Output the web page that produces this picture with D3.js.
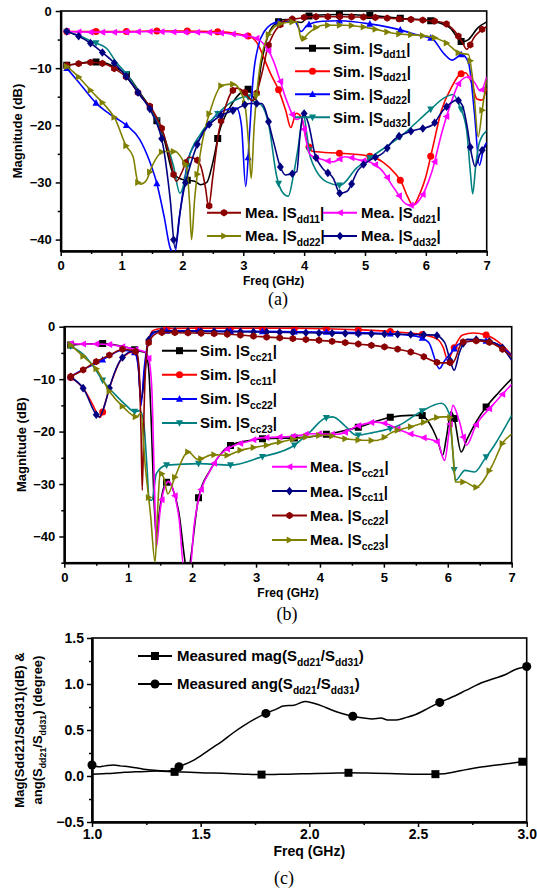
<!DOCTYPE html>
<html><head><meta charset="utf-8">
<script src="https://cdn.jsdelivr.net/npm/d3@7"></script>
<style>body{margin:0;background:#fff}svg{display:block}</style>
</head><body>
<svg id="chart" width="537" height="888"></svg>
<script>
// ================= DATA =================
// Panel (a): differential-mode S-parameters, [freq GHz, dB]
const aXTicks = [0,1,2,3,4,5,6,7];
const aYTicks = [0,-10,-20,-30,-40];
const a_simSdd11 = [[0.1,-9.5],[0.3,-9.2],[0.5,-8.9],[0.7,-9.0],[0.9,-9.9],[1.1,-11.3],[1.3,-14.3],[1.5,-17.5],[1.7,-22.5],[1.85,-28.5],[2.0,-29.5],[2.2,-29.8],[2.3,-30.4],[2.4,-30.0],[2.5,-26.5],[2.6,-21.4],[2.8,-16.5],[3.0,-14.0],[3.08,-13.7],[3.2,-15.5],[3.3,-9.0],[3.4,-4.5],[3.5,-2.5],[3.7,-1.5],[3.95,-2.0],[4.1,-0.8],[4.6,-0.6],[5.1,-0.8],[5.6,-1.3],[6.0,-1.6],[6.2,-2.0],[6.4,-3.0],[6.6,-5.4],[6.7,-5.0],[6.85,-3.0],[7.0,-1.9]];
const a_simSdd21 = [[0.1,-3.6],[0.5,-3.6],[1.0,-3.6],[1.5,-3.5],[2.0,-3.5],[2.5,-3.6],[2.8,-3.8],[3.0,-4.2],[3.15,-4.7],[3.25,-6],[3.35,-8.5],[3.45,-11],[3.58,-13.8],[3.7,-17.5],[3.78,-20.4],[3.87,-17.9],[3.95,-18.5],[4.05,-23],[4.15,-24.6],[4.6,-24.9],[5.08,-25.4],[5.3,-26.5],[5.5,-28.5],[5.6,-30],[5.7,-32.5],[5.79,-34],[5.9,-32],[6.0,-29],[6.1,-24.5],[6.26,-17.3],[6.43,-13.2],[6.55,-11.2],[6.65,-10.8],[6.75,-12.5],[6.84,-15.4],[6.92,-15.6],[7.0,-13.5]];
const a_simSdd22 = [[0.1,-10],[0.3,-12.5],[0.59,-16.2],[0.8,-18],[1.08,-20],[1.3,-22.5],[1.45,-26],[1.58,-30.2],[1.7,-36],[1.8,-41.5],[1.87,-42.5],[1.96,-35.4],[2.03,-30],[2.1,-25.7],[2.29,-22.3],[2.56,-18.2],[2.75,-17.2],[2.89,-17],[2.97,-20],[3.04,-30.7],[3.1,-22],[3.16,-12],[3.25,-6],[3.35,-3.5],[3.45,-2.4],[3.58,-1.9],[3.85,-1.9],[3.95,-3.6],[4.05,-2.5],[4.3,-1.8],[4.59,-1.7],[5.1,-2.3],[5.58,-3.3],[5.9,-4.3],[6.1,-4.8],[6.3,-7.5],[6.43,-8.6],[6.59,-7.6],[6.7,-9],[6.8,-18],[6.88,-27],[6.95,-24],[7.0,-23]];
const a_simSdd32 = [[0.1,-3.6],[0.3,-4.3],[0.5,-5.3],[0.76,-6.6],[0.9,-8.8],[1.08,-11],[1.3,-14.5],[1.5,-17.6],[1.7,-22],[1.85,-27],[1.96,-31.9],[2.03,-30],[2.1,-26],[2.3,-21.5],[2.56,-18.2],[2.8,-16],[3.05,-15],[3.2,-16],[3.3,-16.5],[3.42,-20],[3.55,-29],[3.65,-31.8],[3.74,-32.4],[3.82,-29],[3.9,-24],[3.99,-18.2],[4.05,-22],[4.1,-25.5],[4.37,-29.9],[4.59,-30.5],[4.86,-27.5],[5.11,-25.5],[5.58,-22],[6.07,-17.3],[6.3,-15.2],[6.45,-14.6],[6.55,-16.5],[6.67,-20.8],[6.73,-28],[6.77,-32],[6.82,-27],[6.88,-23],[7.0,-21]];
const a_meaSdd11 = [[0.1,-9.5],[0.3,-9.2],[0.5,-9.0],[0.7,-9.2],[0.9,-10.2],[1.1,-11.8],[1.3,-14.7],[1.5,-17.2],[1.7,-21.8],[1.8,-26],[1.9,-29.8],[2.0,-28],[2.1,-25.6],[2.2,-25.8],[2.3,-27.1],[2.38,-31],[2.43,-34.3],[2.5,-29],[2.6,-21],[2.7,-17],[2.8,-14.3],[2.9,-13.5],[3.0,-14.0],[3.15,-15.7],[3.3,-11.2],[3.4,-6.5],[3.5,-3.9],[3.6,-2.5],[3.7,-1.6],[3.9,-1.3],[4.1,-1.0],[4.6,-1.0],[5.1,-1.1],[5.6,-1.4],[6.07,-1.7],[6.28,-2.0],[6.48,-3.6],[6.6,-5.5],[6.67,-6.7],[6.8,-4.5],[7.0,-2.7]];
const a_meaSdd21 = [[0.1,-3.6],[0.5,-3.7],[1.0,-3.7],[1.5,-3.6],[2.0,-3.7],[2.5,-3.8],[2.8,-4.0],[3.0,-4.3],[3.2,-4.7],[3.33,-5.7],[3.49,-8.6],[3.6,-12],[3.71,-15.6],[3.88,-19],[3.96,-18.6],[4.02,-22],[4.1,-25.2],[4.3,-26],[4.48,-26.4],[4.67,-25.5],[4.92,-26.1],[5.1,-26.5],[5.27,-27.8],[5.49,-31.2],[5.68,-33.8],[5.8,-34],[5.87,-33.4],[6.0,-31],[6.1,-28.1],[6.26,-21.4],[6.43,-15.6],[6.55,-12.5],[6.7,-11.5],[6.8,-12.5],[6.9,-14],[7.0,-11.5]];
const a_meaSdd22 = [[0.1,-9.7],[0.29,-11.5],[0.51,-14.1],[0.7,-16.2],[0.89,-18.8],[1.08,-23.7],[1.19,-25.5],[1.27,-30],[1.32,-30.3],[1.41,-29.6],[1.5,-27.2],[1.69,-24.6],[1.88,-24.6],[2.0,-26],[2.07,-27.5],[2.12,-34],[2.15,-40],[2.2,-33],[2.29,-25.2],[2.48,-16.7],[2.65,-13],[2.84,-12.8],[2.95,-14],[3.03,-16.5],[3.1,-25],[3.13,-29.3],[3.18,-20],[3.27,-10],[3.38,-5],[3.55,-2.5],[3.71,-2.0],[3.88,-1.9],[3.96,-5.1],[4.07,-3.9],[4.31,-2.5],[4.67,-2.5],[5.08,-3.0],[5.47,-3.9],[6.07,-4.5],[6.31,-5.4],[6.56,-7.4],[6.7,-7.6],[6.78,-13],[6.86,-22],[6.93,-17],[7.0,-12]];
const a_meaSdd32 = [[0.1,-3.6],[0.29,-4.4],[0.5,-5.7],[0.7,-7.4],[0.89,-9.2],[1.08,-11.5],[1.3,-14.7],[1.5,-17.9],[1.69,-24],[1.8,-33],[1.88,-41.5],[1.95,-36],[2.03,-31],[2.1,-28.1],[2.29,-22.2],[2.56,-18.8],[2.86,-17.3],[3.11,-16.2],[3.3,-16.2],[3.49,-22.6],[3.6,-27],[3.69,-28.7],[3.88,-28.1],[3.93,-22],[3.99,-17.9],[4.07,-19.7],[4.18,-25.2],[4.3,-27.5],[4.48,-29.3],[4.59,-31.9],[4.7,-31.6],[4.89,-27.8],[5.08,-26.1],[5.3,-24.8],[5.47,-22.6],[5.74,-21.1],[6.1,-20],[6.29,-17.3],[6.51,-15.6],[6.6,-16.5],[6.67,-19.7],[6.75,-25],[6.81,-27.2],[6.89,-25],[7.0,-23.5]];
const aSimLabels = [["Sim. |S","dd11","|"],["Sim. |S","dd21","|"],["Sim. |S","dd22","|"],["Sim. |S","dd32","|"]];
const aMeaLabels = [["Mea. |S","dd11","|"],["Mea. |S","dd21","|"],["Mea. |S","dd22","|"],["Mea. |S","dd32","|"]];

// Panel (b): common-mode S-parameters, [freq GHz, dB]
const bXTicks = [0,1,2,3,4,5,6,7];
const bYTicks = [0,-10,-20,-30,-40];
const b_simScc21 = [[0.1,-3.5],[0.3,-3.3],[0.61,-3.2],[0.8,-3.5],[1.0,-4.0],[1.15,-4.6],[1.27,-4.9],[1.32,-8],[1.36,-18],[1.4,-32],[1.44,-40],[1.48,-36],[1.53,-32],[1.58,-30],[1.63,-29.5],[1.7,-31],[1.8,-36],[1.88,-44],[1.93,-48],[1.98,-44],[2.1,-32.6],[2.28,-27.4],[2.43,-24.5],[2.59,-22.7],[2.9,-21.7],[3.2,-21.3],[3.6,-21.2],[3.84,-21],[4.2,-20.3],[4.59,-19.2],[5.09,-17.3],[5.4,-16.9],[5.58,-16.9],[5.77,-19.7],[5.85,-22],[5.92,-24.5],[5.98,-21],[6.05,-16.2],[6.1,-17.5],[6.21,-23.9],[6.3,-21.5],[6.45,-18],[6.6,-15.3],[6.8,-12.5],[7.0,-9.9]];
const b_simScc11 = [[0.1,-9.7],[0.3,-11.8],[0.45,-15],[0.56,-17.3],[0.64,-14.5],[0.72,-11.2],[0.9,-6.1],[1.1,-4.7],[1.15,-6.5],[1.2,-14],[1.26,-8],[1.31,-3.1],[1.39,-0.7],[1.5,-0.4],[2.0,-0.3],[3.0,-0.3],[3.58,-0.3],[4.62,-0.6],[5.2,-1],[5.61,-1.5],[5.85,-2.5],[5.93,-4],[6.0,-6.4],[6.08,-4.5],[6.23,-1.6],[6.4,-1.2],[6.6,-1.6],[6.8,-3],[7.0,-5.4]];
const b_simScc22 = [[0.1,-9.5],[0.3,-8.1],[0.5,-7],[0.7,-5.6],[0.9,-4.5],[1.1,-4.9],[1.16,-8],[1.2,-15],[1.25,-8],[1.31,-3],[1.4,-1.2],[1.5,-0.8],[2.0,-0.8],[3.0,-0.9],[4.0,-1.0],[5.0,-1.3],[5.5,-1.8],[5.7,-3],[5.87,-8.0],[5.95,-6.5],[6.05,-5],[6.15,-3.5],[6.26,-2.9],[6.5,-2.6],[6.8,-3.5],[7.0,-5.5]];
const b_simScc23 = [[0.1,-3.7],[0.3,-5.3],[0.45,-7.5],[0.58,-9.9],[0.8,-13],[0.95,-14.8],[1.1,-16.2],[1.18,-16.0],[1.24,-18],[1.29,-26],[1.33,-33],[1.37,-33.1],[1.44,-28],[1.6,-26.4],[2.12,-26.1],[2.59,-26.4],[3.07,-24.9],[3.6,-22.6],[3.85,-20],[4.07,-17.5],[4.2,-17.2],[4.4,-19],[4.57,-20.7],[4.83,-20.2],[5.24,-18.8],[5.58,-16.2],[5.9,-14.6],[6.02,-16.5],[6.08,-24],[6.12,-29.3],[6.27,-27.4],[6.42,-27.7],[6.58,-25.2],[6.73,-22.6],[7.0,-16.9]];
const b_meaScc21 = [[0.1,-3.2],[0.3,-3.3],[0.51,-3.3],[0.7,-3.4],[0.9,-3.8],[1.1,-4.3],[1.26,-4.8],[1.32,-6],[1.37,-12],[1.41,-30],[1.44,-42],[1.5,-35],[1.56,-31],[1.63,-29.5],[1.7,-31],[1.8,-37],[1.87,-46],[1.97,-46],[2.03,-38],[2.1,-33],[2.28,-27.5],[2.43,-24.5],[2.6,-23],[2.9,-21.8],[3.07,-21.2],[3.58,-20.9],[3.89,-20.4],[4.28,-20.5],[4.62,-18.8],[4.88,-18.2],[5.04,-18.5],[5.25,-19.7],[5.48,-20.7],[5.66,-21.3],[5.84,-22],[5.95,-25.5],[6.02,-20],[6.08,-15],[6.18,-18],[6.29,-22.6],[6.44,-18.8],[6.7,-15],[7.0,-11]];
const b_meaScc11 = [[0.1,-9.6],[0.3,-11.8],[0.51,-16.9],[0.55,-17.2],[0.63,-15],[0.71,-11.5],[0.9,-6],[1.1,-4.6],[1.15,-6],[1.2,-14],[1.26,-9],[1.31,-3],[1.39,-1],[1.5,-0.9],[2.0,-0.9],[3.0,-1.0],[4.0,-1.2],[5.0,-1.4],[5.5,-1.5],[5.8,-1.6],[5.95,-3],[6.05,-7],[6.1,-8.3],[6.18,-5],[6.3,-2.4],[6.5,-2.5],[6.8,-3.5],[7.0,-6.4]];
const b_meaScc22 = [[0.1,-9.5],[0.3,-8.2],[0.45,-7],[0.71,-5.4],[0.92,-4.3],[1.13,-4.8],[1.17,-8],[1.2,-20],[1.22,-31.2],[1.25,-15],[1.3,-3.8],[1.4,-1.6],[1.5,-1.1],[2.0,-1.2],[2.5,-1.4],[3.07,-1.9],[3.6,-2.3],[4.1,-2.7],[4.6,-3.3],[5.14,-4.1],[5.5,-5.1],[5.9,-6.9],[6.08,-6.8],[6.23,-2.9],[6.5,-2.7],[6.7,-3.2],[7.0,-5.7]];
const b_meaScc23 = [[0.1,-3.5],[0.3,-5.7],[0.51,-8.2],[0.71,-12.4],[0.92,-15.3],[1.13,-17.2],[1.2,-16.5],[1.26,-25.6],[1.35,-36],[1.42,-44.9],[1.46,-35],[1.5,-27.8],[1.56,-29],[1.62,-31.9],[1.73,-28.7],[1.94,-23.9],[2.09,-25.3],[2.33,-24.4],[2.54,-24.5],[2.75,-23.6],[3.16,-22.6],[3.6,-21.4],[4.1,-20.7],[4.41,-21.4],[4.88,-21.7],[5.14,-20.1],[5.5,-18.8],[5.92,-17.2],[6.03,-17.2],[6.08,-24],[6.12,-29.6],[6.26,-29.6],[6.44,-30.6],[6.68,-26.8],[6.87,-22],[7.0,-20.5]];
const bSimLabels = [["Sim. |S","cc21","|"],["Sim. |S","cc11","|"],["Sim. |S","cc22","|"],["Sim. |S","cc23","|"]];
const bMeaLabels = [["Mea. |S","cc21","|"],["Mea. |S","cc11","|"],["Mea. |S","cc22","|"],["Mea. |S","cc23","|"]];

// Panel (c): measured magnitude / angle imbalance
const cXTicks = [1.0,1.5,2.0,2.5,3.0];
const cYTicks = [-0.5,0.0,0.5,1.0,1.5];
const c_magF = [1.0,1.05,1.1,1.15,1.2,1.25,1.3,1.38,1.45,1.5,1.6,1.7,1.78,1.9,2.0,2.1,2.18,2.3,2.4,2.5,2.58,2.62,2.7,2.8,2.9,2.98,3.0];
const c_magV = [0.02,0.025,0.03,0.04,0.045,0.05,0.055,0.045,0.04,0.035,0.03,0.02,0.015,0.02,0.025,0.03,0.035,0.03,0.025,0.02,0.02,0.025,0.06,0.1,0.13,0.155,0.16];
const c_angF = [1.0,1.03,1.06,1.1,1.13,1.17,1.2,1.25,1.3,1.35,1.38,1.4,1.45,1.5,1.55,1.6,1.65,1.7,1.75,1.8,1.85,1.88,1.93,1.98,2.02,2.06,2.1,2.15,2.2,2.25,2.29,2.33,2.36,2.4,2.45,2.48,2.55,2.6,2.65,2.72,2.78,2.85,2.9,2.94,3.0];
const c_angV = [0.12,0.1,0.11,0.12,0.11,0.1,0.09,0.07,0.06,0.055,0.07,0.1,0.15,0.22,0.3,0.38,0.47,0.55,0.62,0.68,0.73,0.76,0.77,0.81,0.79,0.76,0.72,0.68,0.65,0.63,0.62,0.63,0.61,0.61,0.64,0.66,0.74,0.8,0.85,0.93,1.0,1.06,1.1,1.15,1.19];
const c_magMarkF = [1.38,1.78,2.18,2.58,2.98];
const c_angMarkF = [1.0,1.4,1.8,2.2,2.6,3.0];
const cLabels = [["Measured mag(S","dd21","/S","dd31",")"],["Measured ang(S","dd21","/S","dd31",")"]];

// ================= DRAWING =================
const svg = d3.select('#chart');
const FONT = "'Liberation Sans', Arial, sans-serif";
const SERIF = "'Liberation Serif', 'Times New Roman', serif";

function markerPath(shape, s){
  s = s || 7;
  const r = s/2;
  switch(shape){
    case 'square': return `M${-r},${-r}H${r}V${r}H${-r}Z`;
    case 'circle': return d3.symbol(d3.symbolCircle, Math.PI*r*r)();
    case 'diamond': return `M0,${-r-0.8}L${r},0L0,${r+0.8}L${-r},0Z`;
    case 'hex': { let p=''; for(let i=0;i<6;i++){const a=Math.PI/3*i+Math.PI/6; p+=(i?'L':'M')+(r*1.05*Math.cos(a)).toFixed(2)+','+(r*1.05*Math.sin(a)).toFixed(2);} return p+'Z'; }
    case 'triUp': return `M0,${-r*1.1}L${r},${r*0.8}L${-r},${r*0.8}Z`;
    case 'triDown': return `M0,${r*1.1}L${r},${-r*0.8}L${-r},${-r*0.8}Z`;
    case 'triLeft': return `M${-r*1.1},0L${r*0.8},${-r}L${r*0.8},${r}Z`;
    case 'triRight': return `M${r*1.1},0L${-r*0.8},${-r}L${-r*0.8},${r}Z`;
  }
}

function richText(g, x, y, parts, size){
  const t = g.append('text').attr('x',x).attr('y',y)
    .attr('font-family',FONT).attr('font-weight','bold').attr('font-size',size).attr('fill','#000');
  let sub=false;
  parts.forEach((p,i)=>{
    const isSub = (i%2===1);
    const ts = t.append('tspan').text(p).attr('font-size', isSub? size*0.68 : size);
    if(isSub && !sub) ts.attr('dy', size*0.3);
    if(!isSub && sub) ts.attr('dy', -size*0.3);
    sub = isSub;
  });
  return t;
}

function makePanel(cfg){
  const g = svg.append('g');
  const x = d3.scaleLinear().domain(cfg.xd).range([cfg.x0,cfg.x1]);
  const y = d3.scaleLinear().domain(cfg.yd).range([cfg.y1,cfg.y0]);
  const id = 'clip'+cfg.name;
  svg.append('clipPath').attr('id',id).append('rect')
    .attr('x',cfg.x0).attr('y',cfg.y0).attr('width',cfg.x1-cfg.x0).attr('height',cfg.y1-cfg.y0);
  g.append('rect').attr('x',cfg.x0).attr('y',cfg.y0).attr('width',cfg.x1-cfg.x0).attr('height',cfg.y1-cfg.y0)
    .attr('fill','none').attr('stroke','#000').attr('stroke-width',1.6);
  g.append('g').attr('transform',`translate(0,${cfg.y1})`)
    .call(d3.axisBottom(x).tickValues(cfg.xTicks).tickSize(5).tickSizeOuter(0).tickPadding(cfg.pad||4).tickFormat(cfg.xFmt));
  g.append('g').attr('transform',`translate(0,${cfg.y1})`)
    .call(d3.axisBottom(x).tickValues(cfg.xMinor).tickSize(3).tickSizeOuter(0).tickFormat(''));
  g.append('g').attr('transform',`translate(${cfg.x0},0)`)
    .call(d3.axisLeft(y).tickValues(cfg.yTicks).tickSize(5).tickSizeOuter(0).tickPadding(cfg.ypad||4).tickFormat(cfg.yFmt));
  g.append('g').attr('transform',`translate(${cfg.x0},0)`)
    .call(d3.axisLeft(y).tickValues(cfg.yMinor).tickSize(3).tickSizeOuter(0).tickFormat(''));
  g.selectAll('.domain').attr('stroke-width',2);
  g.selectAll('.tick line').attr('stroke-width',1.5);
  g.selectAll('.tick text').attr('font-family',FONT).attr('font-weight','bold').attr('font-size',cfg.tickFont||13).attr('fill','#000');
  g.append('text').attr('x',(cfg.x0+cfg.x1)/2).attr('y',cfg.y1+cfg.xTitleOff)
    .attr('text-anchor','middle').attr('font-family',FONT).attr('font-weight','bold').attr('font-size',cfg.titleFont||12).text('Freq (GHz)');
  const plot = g.append('g').attr('clip-path',`url(#${id})`);
  return {g, x, y, plot};
}

const lineGen = (x,y)=> d3.line().x(d=>x(d[0])).y(d=>y(d[1])).curve(d3.curveMonotoneX);

function markerXs(start, step, end){ const r=[]; for(let f=start; f<=end+1e-9; f+=step) r.push(f); return r; }

function drawSeries(P, data, st, markFs){
  const path = P.plot.append('path').datum(data).attr('d', lineGen(P.x,P.y))
    .attr('fill','none').attr('stroke',st.color).attr('stroke-width',st.w||1.6).attr('stroke-linejoin','round');
  const node = path.node(); const L = node.getTotalLength();
  const pts = markFs.map(f=>{
    const tx = P.x(f); let lo=0, hi=L;
    for(let i=0;i<40;i++){ const m=(lo+hi)/2; if(node.getPointAtLength(m).x<tx) lo=m; else hi=m; }
    return node.getPointAtLength(hi);
  });
  P.plot.selectAll(null).data(pts).join('path')
    .attr('transform',p=>`translate(${p.x},${p.y})`).attr('d',markerPath(st.shape, st.ms||7)).attr('fill',st.color);
}

function legendItem(g, x1, x2, y, st, parts, size, tx){
  g.append('line').attr('x1',x1).attr('x2',x2).attr('y1',y).attr('y2',y).attr('stroke',st.color).attr('stroke-width',2);
  g.append('path').attr('transform',`translate(${(x1+x2)/2},${y})`).attr('d',markerPath(st.shape, st.ms||7)).attr('fill',st.color);
  richText(g, tx, y+size*0.36, parts, size);
}

const ST = {
  black:{color:'#000000',shape:'square'},
  red:{color:'#ff0000',shape:'circle'},
  blue:{color:'#0000ff',shape:'triUp'},
  teal:{color:'#008080',shape:'triDown'},
  dred:{color:'#8b0000',shape:'hex'},
  mag:{color:'#ff00ff',shape:'triLeft'},
  olive:{color:'#808000',shape:'triRight'},
  navy:{color:'#000080',shape:'diamond'}
};

// ---------- Panel (a) ----------
const PA = makePanel({name:'a', x0:60.7, x1:486.7, y0:11, y1:251, xd:[0,7], yd:[-42,0],
  xTicks:aXTicks, xMinor:[0.5,1.5,2.5,3.5,4.5,5.5,6.5], yTicks:aYTicks, yMinor:[-5,-15,-25,-35],
  xFmt:d3.format('d'), yFmt:d3.format('d'), xTitleOff:34, pad:5});
const simA = [[a_simSdd11,ST.black],[a_simSdd21,ST.red],[a_simSdd22,ST.blue],[a_simSdd32,ST.teal]];
const meaA = [[a_meaSdd11,ST.dred],[a_meaSdd21,ST.mag],[a_meaSdd22,ST.olive],[a_meaSdd32,ST.navy]];
simA.forEach(([d,s])=>drawSeries(PA,d,s,markerXs(0.08,0.5,7)));
meaA.forEach(([d,s])=>drawSeries(PA,d,s,markerXs(0.1,0.195,7)));
simA.forEach(([d,s],i)=>legendItem(PA.g,295,330,48.3+i*23,s,aSimLabels[i],15,333));
meaA.forEach(([d,s],i)=>{
  const col=i%2, row=Math.floor(i/2);
  const lx = col? 323:207;
  legendItem(PA.g,lx,lx+34,212.7+row*23.3,s,aMeaLabels[i],15,lx+38);
});
PA.g.append('text').attr('transform','translate(22,131) rotate(-90)').attr('text-anchor','middle')
  .attr('font-family',FONT).attr('font-weight','bold').attr('font-size',13).text('Magnitude (dB)');
svg.append('text').attr('x',278).attr('y',305).attr('text-anchor','middle').attr('font-family',SERIF).attr('font-size',18).text('(a)');

// ---------- Panel (b) ----------
const PB = makePanel({name:'b', x0:64.3, x1:511.7, y0:326.7, y1:562.7, xd:[0,7], yd:[-45,0],
  xTicks:bXTicks, xMinor:[0.5,1.5,2.5,3.5,4.5,5.5,6.5], yTicks:bYTicks, yMinor:[-5,-15,-25,-35,-45],
  xFmt:d3.format('d'), yFmt:d3.format('d'), xTitleOff:34, pad:5});
const simB = [[b_simScc21,ST.black],[b_simScc11,ST.red],[b_simScc22,ST.blue],[b_simScc23,ST.teal]];
const meaB = [[b_meaScc21,ST.mag],[b_meaScc11,ST.navy],[b_meaScc22,ST.dred],[b_meaScc23,ST.olive]];
simB.forEach(([d,s])=>drawSeries(PB,d,s,markerXs(0.1,0.5,7)));
meaB.forEach(([d,s])=>drawSeries(PB,d,s,markerXs(0.09,0.205,7)));
simB.forEach(([d,s],i)=>legendItem(PB.g,162,197,350.7+i*24.1,s,bSimLabels[i],15,200));
meaB.forEach(([d,s],i)=>legendItem(PB.g,272,307,466.7+i*24.4,s,bMeaLabels[i],15,310));
PB.g.append('text').attr('transform','translate(26,444.7) rotate(-90)').attr('text-anchor','middle')
  .attr('font-family',FONT).attr('font-weight','bold').attr('font-size',13).text('Magnitude (dB)');
svg.append('text').attr('x',287).attr('y',620).attr('text-anchor','middle').attr('font-family',SERIF).attr('font-size',18).text('(b)');

// ---------- Panel (c) ----------
const PC = makePanel({name:'c', x0:92, x1:526.7, y0:638, y1:822, xd:[1,3], yd:[-0.5,1.5],
  xTicks:cXTicks, xMinor:[1.25,1.75,2.25,2.75], yTicks:cYTicks, yMinor:[-0.25,0.25,0.75,1.25],
  xFmt:d3.format('.1f'), yFmt:d3.format('.1f'), xTitleOff:34, pad:2, ypad:3, tickFont:14, titleFont:14});
const cMag = c_magF.map((f,i)=>[f,c_magV[i]]);
const cAng = c_angF.map((f,i)=>[f,c_angV[i]]);
const stSq = {color:'#000',shape:'square',ms:8,w:1.5}, stCi = {color:'#000',shape:'circle',ms:9,w:1.5};
drawSeries(PC,cMag,stSq,c_magMarkF);
drawSeries(PC,cAng,stCi,c_angMarkF);
PC.plot.attr('clip-path',null);
legendItem(PC.g,138,172,656,stSq,cLabels[0],15,177);
legendItem(PC.g,138,172,684,stCi,cLabels[1],15,177);
PC.g.append('text').attr('transform','translate(24,730) rotate(-90)').attr('text-anchor','middle')
  .attr('font-family',FONT).attr('font-weight','bold').attr('font-size',13).text('Mag(Sdd21/Sdd31)(dB) &');
{
  const t = richText(PC.g,0,0,["ang(S","dd21","/S","dd31",") (degree)"],13);
  t.attr('transform','translate(42,730) rotate(-90)').attr('text-anchor','middle');
}
svg.append('text').attr('x',284).attr('y',884).attr('text-anchor','middle').attr('font-family',SERIF).attr('font-size',18).text('(c)');
</script>
</body></html>
